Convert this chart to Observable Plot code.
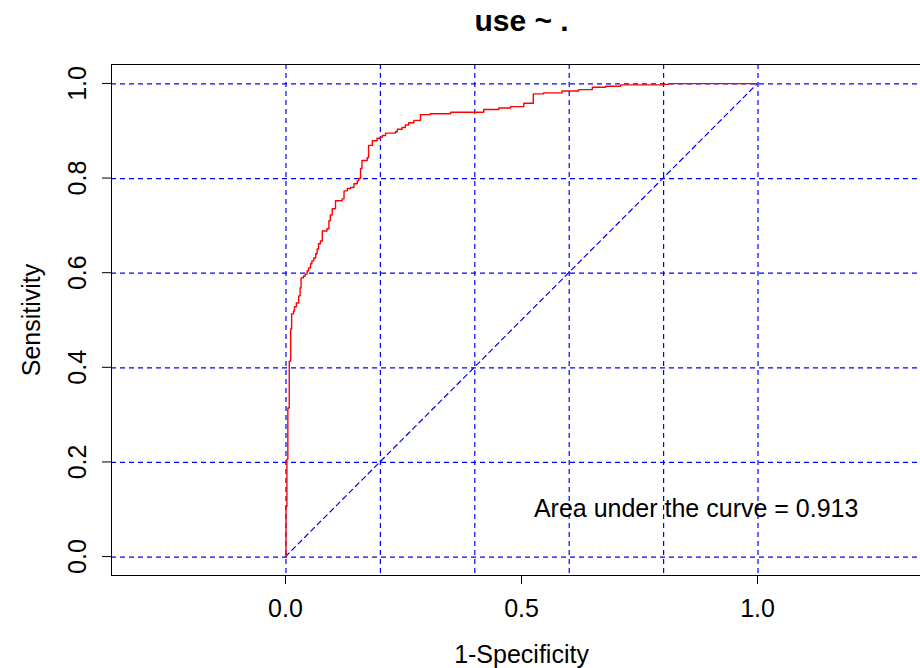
<!DOCTYPE html>
<html>
<head>
<meta charset="utf-8">
<script src="https://cdn.jsdelivr.net/npm/d3@7"></script>
<script src="https://cdn.jsdelivr.net/npm/@observablehq/plot@0.6"></script>
<style>
  html, body { margin: 0; padding: 0; background: #fff; overflow: hidden; }
  #chart { width: 920px; height: 668px; overflow: hidden; }
  #chart svg { max-width: none !important; width: 940px !important; height: 668px !important; display: block; }
</style>
</head>
<body>
<div id="chart"></div>
<script>
// ---- data ----
const title = "use ~ .";
const xLabel = "1-Specificity";
const yLabel = "Sensitivity";
const aucLabel = "Area under the curve = 0.913";
const aucPos = [{x: 0.87, y: 0.1}];

const xTicks = [0, 0.5, 1];
const yTicks = [0, 0.2, 0.4, 0.6, 0.8, 1];
const gridX = [0, 0.2, 0.4, 0.6, 0.8, 1];
const gridY = [0, 0.2, 0.4, 0.6, 0.8, 1];
const diagX = [0, 1];
const diagY = [0, 1];

// ROC curve (1-specificity, sensitivity)
const fpr = [0, 0.001, 0.003, 0.005, 0.008, 0.011, 0.013, 0.017, 0.019, 0.023,
  0.028, 0.031, 0.033, 0.038, 0.042, 0.046, 0.049, 0.053, 0.056, 0.060,
  0.064, 0.067, 0.070, 0.074, 0.078, 0.088, 0.092, 0.095, 0.099, 0.106,
  0.120, 0.124, 0.131, 0.138, 0.145, 0.152, 0.155, 0.159, 0.162, 0.173,
  0.176, 0.184, 0.194, 0.201, 0.205, 0.212, 0.233, 0.237, 0.247, 0.254,
  0.261, 0.272, 0.286, 0.307, 0.350, 0.398, 0.420, 0.452, 0.477, 0.505,
  0.525, 0.547, 0.586, 0.621, 0.650, 0.678, 0.710, 0.801, 0.812, 1.0];
const tpr = [0, 0.106, 0.206, 0.314, 0.413, 0.481, 0.513, 0.519, 0.528, 0.536,
  0.551, 0.568, 0.589, 0.593, 0.597, 0.604, 0.610, 0.619, 0.625, 0.631,
  0.640, 0.650, 0.661, 0.667, 0.688, 0.693, 0.710, 0.722, 0.735, 0.752,
  0.756, 0.773, 0.778, 0.780, 0.788, 0.794, 0.799, 0.820, 0.837, 0.843,
  0.869, 0.879, 0.884, 0.886, 0.890, 0.895, 0.898, 0.903, 0.907, 0.912,
  0.917, 0.922, 0.934, 0.936, 0.939, 0.939, 0.945, 0.948, 0.951, 0.958,
  0.978, 0.980, 0.984, 0.987, 0.992, 0.994, 0.997, 0.998, 0.9995, 1.0];

// ---- build ----
const roc = fpr.map((f, i) => ({fpr: f, tpr: tpr[i]}));
const diag = diagX.map((x, i) => ({x, y: diagY[i]}));
const fmt = d3.format(".1f");
const FONT = "'Liberation Sans', Arial, Helvetica, sans-serif";
const BLUE = "#0000ff";
const DASH = "5,4";

const chart = Plot.plot({
  width: 940,
  height: 668,
  marginLeft: 111,
  marginRight: 9,
  marginTop: 64,
  marginBottom: 93,
  style: {fontFamily: FONT, fontSize: "25px", background: "#fff", color: "#000", maxWidth: "none"},
  x: {domain: [-0.3686, 1.3686], axis: null},
  y: {domain: [-0.04, 1.04], axis: null},
  marks: [
    Plot.ruleX(gridX, {x: d => d, stroke: BLUE, strokeWidth: 1.2, strokeDasharray: DASH, dx: 0.5}),
    Plot.ruleY(gridY, {y: d => d, stroke: BLUE, strokeWidth: 1.2, strokeDasharray: DASH, dy: 0.5}),
    Plot.line(diag, {x: "x", y: "y", stroke: BLUE, strokeWidth: 1.2, strokeDasharray: DASH}),
    Plot.line(roc, {x: "fpr", y: "tpr", stroke: "#ff0000", strokeWidth: 1.4, curve: "step-after"}),
    Plot.frame({stroke: "#000", strokeWidth: 1}),
    Plot.axisX({ticks: xTicks, tickSize: 9, tickPadding: 15, tickFormat: fmt, fontSize: 25, label: null, stroke: "#000"}),
    Plot.axisY({ticks: yTicks, tickSize: 9, tickFormat: () => "", label: null, stroke: "#000"}),
    Plot.text(yTicks, {y: d => d, text: d => fmt(d), frameAnchor: "left", dx: -34, rotate: -90,
      textAnchor: "middle", lineAnchor: "middle", fontSize: 25, fill: "#000"}),
    Plot.text([yLabel], {text: d => d, frameAnchor: "left", dx: -80, rotate: -90,
      textAnchor: "middle", lineAnchor: "middle", fontSize: 25, fill: "#000"}),
    Plot.text([xLabel], {text: d => d, frameAnchor: "bottom", dy: 79,
      textAnchor: "middle", lineAnchor: "middle", fontSize: 25, fill: "#000"}),
    Plot.text([title], {text: d => d, frameAnchor: "top", dy: -43,
      textAnchor: "middle", lineAnchor: "middle", fontSize: 30, fontWeight: "bold", fill: "#000"}),
    Plot.text(aucPos, {x: "x", y: "y", text: () => aucLabel,
      textAnchor: "middle", lineAnchor: "middle", fontSize: 25, fill: "#000"})
  ]
});
document.getElementById("chart").appendChild(chart);
</script>
</body>
</html>
